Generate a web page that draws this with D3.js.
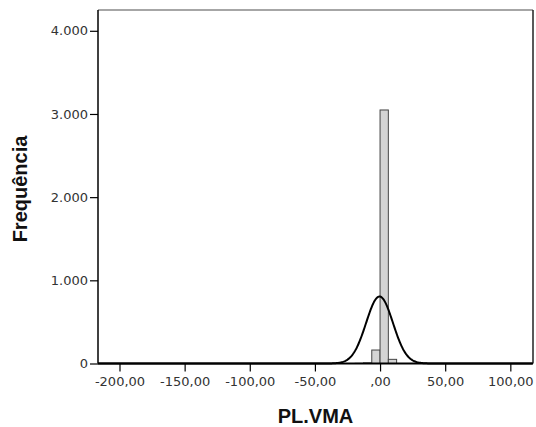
<!DOCTYPE html>
<html><head><meta charset="utf-8">
<script src="https://cdn.jsdelivr.net/npm/d3@7"></script>
<style>body{margin:0;background:#fff}svg{display:block}</style>
</head><body><svg id="c" width="536" height="427"></svg>
<script>
// data
const binStarts = [-19.08, -12.72, -6.36, 0, 6.36];
const binWidth = 6.36;
const counts = [2, 8, 162, 3048, 50];
const yTicks = [0, 1000, 2000, 3000, 4000];
const yTickLabels = ["0", "1.000", "2.000", "3.000", "4.000"];
const xTicks = [-200, -150, -100, -50, 0, 50, 100];
const xTickLabels = ["-200,00", "-150,00", "-100,00", "-50,00", ",00", "50,00", "100,00"];
const normMean = -0.4, normSd = 10.3, normN = 3270;
const xTitle = "PL.VMA", yTitle = "Frequência";

const svg = d3.select("#c");
const L = 98, R = 533, T = 10, B = 363.5;
const x = d3.scaleLinear().domain([-216.5, 117.4]).range([L, R]);
const y = d3.scaleLinear().domain([0, 4250]).range([B, T]);

// frame top & right
svg.append("line").attr("x1", L).attr("x2", R).attr("y1", T).attr("y2", T).attr("stroke", "#888").attr("stroke-width", 1.5);
svg.append("line").attr("x1", R).attr("x2", R).attr("y1", T).attr("y2", B).attr("stroke", "#222").attr("stroke-width", 1.5);

// bars
svg.selectAll("rect.bar").data(binStarts).enter().append("rect")
  .attr("x", (d) => x(d)).attr("width", (d) => x(d + binWidth) - x(d))
  .attr("y", (d, i) => y(counts[i])).attr("height", (d, i) => B - y(counts[i]))
  .attr("fill", "#d4d4d4").attr("stroke", "#444").attr("stroke-width", 1);

// normal curve
const pts = d3.range(-216.5, 117.5, 0.5);
const dens = (v) => normN * binWidth / (normSd * Math.sqrt(2 * Math.PI)) * Math.exp(-0.5 * ((v - normMean) / normSd) ** 2);
svg.append("path").datum(pts)
  .attr("d", d3.line().x((d) => x(d)).y((d) => y(dens(d))))
  .attr("fill", "none").attr("stroke", "#000").attr("stroke-width", 2);

// axes
const font = "'DejaVu Sans', Verdana, sans-serif";
const tfont = "'Liberation Sans', Arial, sans-serif";
const ya = svg.append("g").attr("transform", `translate(${L},0)`)
  .call(d3.axisLeft(y).tickValues(yTicks).tickFormat((d, i) => yTickLabels[i]).tickSize(8).tickSizeOuter(0));
ya.select(".domain").attr("stroke", "#000").attr("stroke-width", 1.5).attr("d", `M0,${T}V${B}`);
ya.selectAll(".tick line").attr("stroke", "#000").attr("stroke-width", 1.2);
ya.selectAll(".tick text").attr("font-family", font).attr("font-size", 13).attr("fill", "#333").attr("x", -10);

const xa = svg.append("g").attr("transform", `translate(0,${B})`)
  .call(d3.axisBottom(x).tickValues(xTicks).tickFormat((d, i) => xTickLabels[i]).tickSize(8).tickSizeOuter(0));
xa.select(".domain").attr("stroke", "#000").attr("stroke-width", 2).attr("d", `M${L},0H${R}`);
xa.selectAll(".tick line").attr("stroke", "#000").attr("stroke-width", 1.2);
xa.selectAll(".tick text").attr("font-family", font).attr("font-size", 13).attr("fill", "#333").attr("y", 13);

// titles
svg.append("text").attr("x", (L + R) / 2).attr("y", 423).attr("text-anchor", "middle")
  .attr("font-family", tfont).attr("font-weight", "bold").attr("font-size", 20).attr("fill", "#111").text(xTitle);
svg.append("text").attr("transform", `translate(27,189) rotate(-90)`).attr("text-anchor", "middle")
  .attr("font-family", tfont).attr("font-weight", "bold").attr("font-size", 20).attr("fill", "#111").text(yTitle);
</script></body></html>
